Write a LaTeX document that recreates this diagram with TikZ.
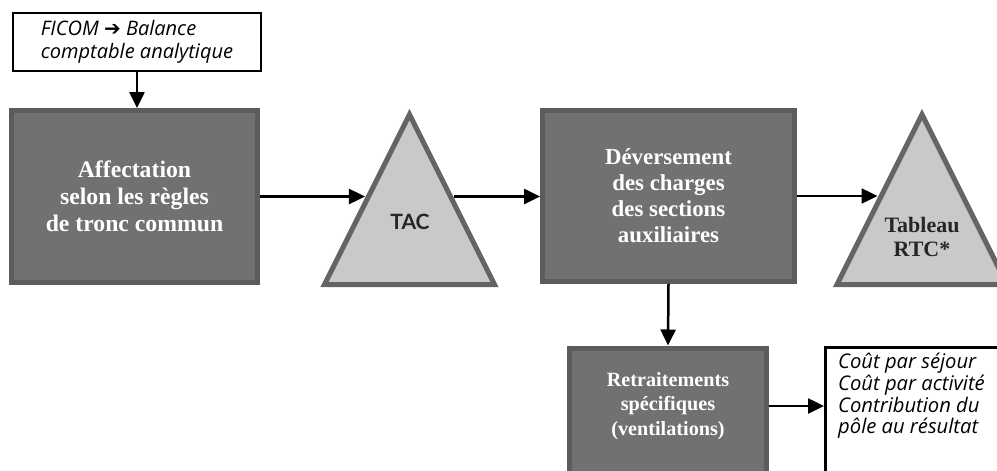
\documentclass[tikz,border=0pt]{standalone}
\usepackage{fontspec}
\setmainfont{Liberation Serif}
\newfontfamily\notefont{Open Sans}
\newfontfamily\tacfont{Lato}
\newfontfamily\symfont{DejaVu Sans}
\usetikzlibrary{shapes.geometric,arrows.meta}
\definecolor{boxfill}{RGB}{114,112,113}
\definecolor{boxline}{RGB}{92,92,92}
\definecolor{trifill}{RGB}{201,201,201}
\definecolor{triline}{RGB}{100,100,100}
\begin{document}
\begin{tikzpicture}[x=0.02cm,y=-0.02cm,
  bloc/.style={draw=boxline, fill=boxfill, line width=0.1cm, text=white, align=center,
    font=\bfseries\fontsize{13.5}{15.3}\selectfont, inner sep=0pt},
  pyramide/.style={isosceles triangle, isosceles triangle stretches, shape border rotate=90,
    draw=triline, fill=trifill, line width=0.1cm, inner sep=0pt,
    minimum width=3.4cm, minimum height=3.4cm},
  note/.style={draw, line width=0.05cm, inner sep=0pt},
  fleche/.style={-{Triangle[length=0.32cm,width=0.3cm]}, line width=0.05cm}]
\useasboundingbox (0,0) rectangle (997,470);
\clip (0,0) rectangle (997,470);
% source
\node[note, minimum width=4.96cm, minimum height=1.16cm, align=left,
  font=\notefont\itshape\fontsize{11.4}{13.4}\selectfont] (ficom) at (137,42)
  {FICOM {\symfont\upshape ➔} Balance\\comptable analytique};
% first row
\node[bloc, minimum width=4.92cm, minimum height=3.44cm] (affect) at (134.5,196.5)
  {Affectation\\selon les règles\\de tronc commun};
\node[pyramide, anchor=apex] (tac) at (409.5,108) {};
\node[font=\tacfont\bfseries\fontsize{12}{14}\selectfont, text=black!85] (taclbl) at (410,222) {TAC};
\node[bloc, minimum width=5.04cm, minimum height=3.42cm,
  font=\bfseries\fontsize{13}{14.8}\selectfont] (deverse) at (668.5,196)
  {Déversement\\des charges\\des sections\\auxiliaires};
\node[pyramide, anchor=apex] (rtc) at (922,108) {};
\node[align=center, font=\bfseries\fontsize{12.5}{13.6}\selectfont, text=black!85] (rtclbl) at (922,237)
  {Tableau\\RTC*};
% second row
\node[bloc, anchor=north, minimum width=3.94cm, minimum height=3cm] (retrait) at (668,345.5) {};
\node[align=center, text=white, font=\bfseries\fontsize{11.5}{13.9}\selectfont] (retraitlbl) at (668,406)
  {Retraitements\\spécifiques\\(ventilations)};
\node[note, anchor=north west, minimum width=4cm, minimum height=3cm] (sortie) at (824,346) {};
\node[anchor=west, align=left, font=\notefont\itshape\fontsize{11.5}{12.3}\selectfont] (sortielbl) at (832,396)
  {Coût par séjour\\Coût par activité\\Contribution du\\pôle au résultat};
% flows
\draw[fleche] (ficom.south) -- (ficom.south |- affect.north);
\draw[fleche] (affect.east) -- (affect.east -| tac.left side);
\draw[fleche] (affect.east -| tac.right side) -- (affect.east -| deverse.west);
\draw[fleche] (deverse.east) -- (deverse.east -| rtc.left side);
\draw[fleche] (deverse.south) -- (retrait.north);
\draw[fleche] (retrait.east |- retraitlbl) -- (sortie.west |- retraitlbl);
\end{tikzpicture}
\end{document}
